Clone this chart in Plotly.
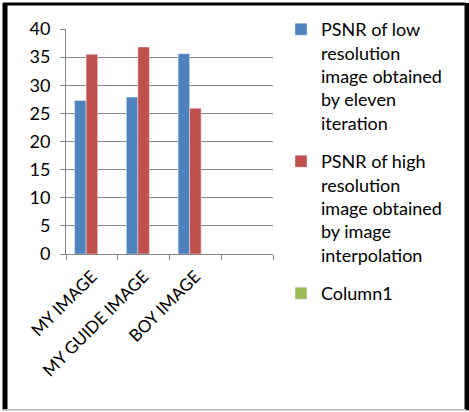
import plotly.graph_objects as go

categories = ["MY IMAGE", "MY GUIDE IMAGE", "BOY IMAGE", " "]
low_res_psnr = [27.3, 27.9, 35.6, None]
high_res_psnr = [35.5, 36.8, 25.9, None]
column1 = [None, None, None, None]
series_names = [
    "PSNR of low<br>resolution<br>image obtained<br>by eleven<br>iteration",
    "PSNR of high<br>resolution<br>image obtained<br>by image<br>interpolation",
    "Column1",
]
colors = ["#4F81BD", "#C0504D", "#9BBB59"]
y_ticks = [0, 5, 10, 15, 20, 25, 30, 35, 40]

W, H = 469, 412
L, R, T, B = 66, 273, 28, 254


def px(x):
    return (x - L) / (R - L)


def py(y):
    return 1 - (y - T) / (B - T)


fig = go.Figure()
for i, (vals, name) in enumerate(zip([low_res_psnr, high_res_psnr, column1], series_names)):
    fig.add_trace(go.Bar(x=categories, y=vals, name=name, marker_color=colors[i],
                         legendgroup=f"g{i}"))

FONT = "Lato"
axis_col = "#868686"
fig.update_layout(
    width=W, height=H,
    margin=dict(l=L, r=W - R, t=T, b=H - B),
    paper_bgcolor="white", plot_bgcolor="white",
    barmode="group", bargap=0.333, bargroupgap=0,
    font=dict(family=FONT, size=17, color="black"),
    showlegend=True,
    legend=dict(x=px(281), y=py(11), xanchor="left", yanchor="top",
                font=dict(family=FONT, size=18, color="black"),
                valign="top", tracegroupgap=12, traceorder="grouped",
                maxheight=400, itemwidth=30,
                bgcolor="rgba(0,0,0,0)"),
    xaxis=dict(type="category", tickson="boundaries", ticks="outside", ticklen=5,
               tickcolor=axis_col, showline=True, linecolor=axis_col, linewidth=1,
               showgrid=False, tickangle=-45, tickfont=dict(family=FONT, size=17),
               ticklabelstandoff=5, range=[-0.5, 3.5]),
    yaxis=dict(range=[0, 40], tickvals=y_ticks, ticks="outside", ticklen=5,
               tickcolor=axis_col, showline=True, linecolor=axis_col, linewidth=1,
               gridcolor=axis_col, gridwidth=1, zeroline=False,
               tickfont=dict(family=FONT, size=18), ticklabelstandoff=6),
)

# outer chart frame
shapes = [
    dict(type="line", xref="paper", yref="paper", x0=px(5), x1=px(5), y0=py(2), y1=py(411),
         line=dict(color="black", width=5)),
    dict(type="line", xref="paper", yref="paper", x0=px(3), x1=px(466), y0=py(3), y1=py(3),
         line=dict(color="black", width=3)),
    dict(type="line", xref="paper", yref="paper", x0=px(467), x1=px(467), y0=py(2), y1=py(411),
         line=dict(color="black", width=5)),
    dict(type="line", xref="paper", yref="paper", x0=px(3), x1=px(466), y0=py(410.5), y1=py(410.5),
         line=dict(color="#bbbbbb", width=1.5)),
]
fig.update_layout(shapes=shapes)

fig.write_html("out.html")
